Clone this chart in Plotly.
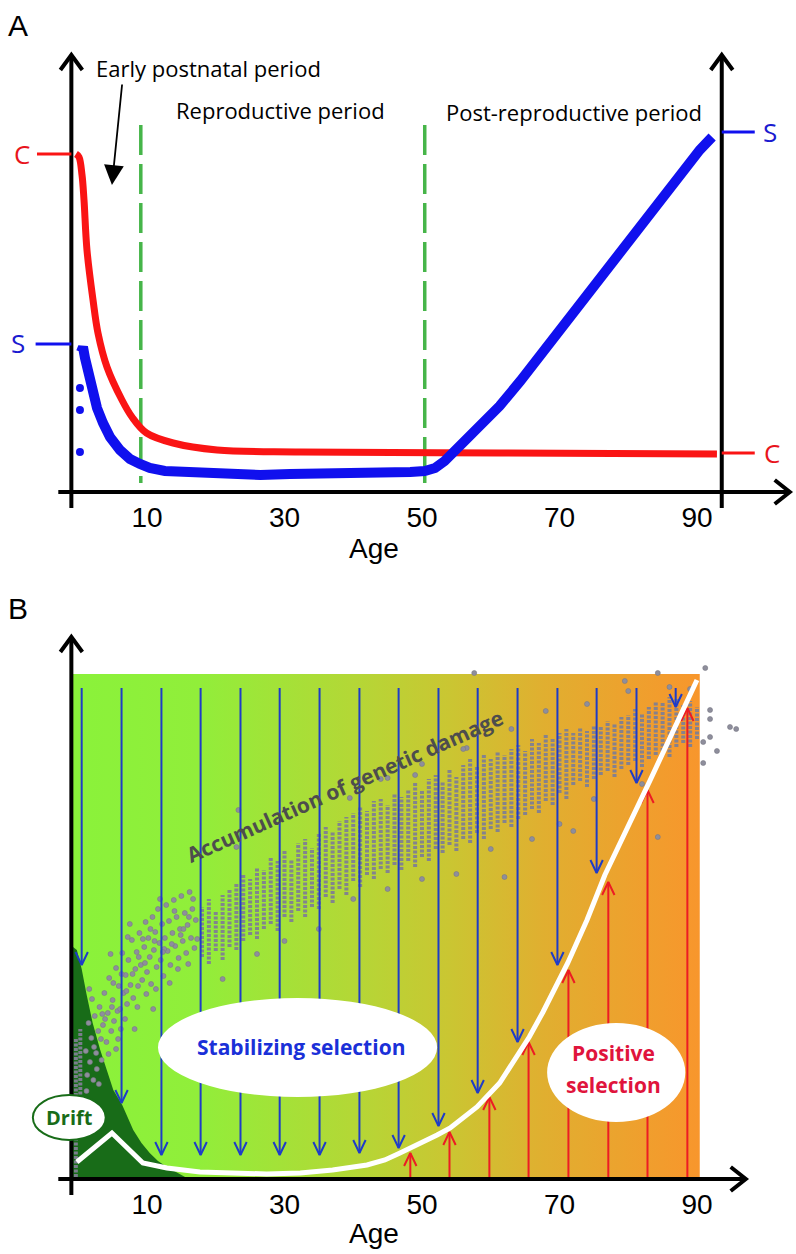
import plotly.graph_objects as go

# ---------------- Panel A data ----------------
red_age = [-0.33, 0.11, 0.55, 0.84, 1.27, 2.15, 2.87, 4.18, 6.36, 7.82, 9.93, 13.8, 20.2, 32.3, 61.4, 92.9]
red_val = [338, 335, 317, 292, 242, 192, 159, 125, 92, 75, 59, 49, 42, 40, 39, 38]

blue_age = [0.40, 0.69, 0.98, 1.42, 2.0, 2.73, 3.6, 4.62, 6.07, 7.53, 8.98, 10.4, 12.6, 17.7, 22.1, 26.5,
            30.8, 35.2, 39.5, 43.9, 48.3, 50.4, 51.9, 53.3, 54.5, 56.0, 57.4, 59.5, 61.3, 64.3, 67.2,
            70.1, 73.0, 75.9, 78.8, 81.7, 84.6, 87.5, 90.4, 92.2]
blue_val = [140, 145, 134, 120, 102, 84, 69, 55, 42, 33, 28, 24, 21, 19, 18, 17,
            18, 18, 19, 19, 20, 21, 24, 31, 39, 49, 59, 72, 86, 111, 137,
            162, 187, 213, 239, 265, 290, 316, 342, 355]
blue_iso_age = [0.25, 0.25, 0.25]
blue_iso_val = [104, 82, 40]

period_bounds = [9.1, 50.4]
x_ticks = [10, 30, 50, 70, 90]

# ---------------- Panel B data ----------------
white_age = [-0.2, 4.9, 9.4, 12.9, 17.7, 22.5, 27.4, 32.3, 37.0, 42.0, 44.6, 46.8, 48.7, 52.2,
             54.1, 58.0, 61.3, 63.8, 65.6, 67.6, 69.6, 71.2, 74.0, 76.6, 83.2, 90.0]
white_val = [17, 46, 16, 11, 7, 6, 5, 6, 9, 14, 19, 26, 32, 44,
             51, 72, 96, 124, 142, 167, 194, 216, 259, 304, 399, 499]

drift_age = [-0.76, -0.2, 0.5, 1.2, 2.1, 3.2, 4.2, 5.1, 6.4, 8.0, 9.2, 10.4, 11.6, 12.9, 15.8]
drift_val = [232, 229, 210, 185, 156, 129, 108, 89, 74, 49, 36, 26, 18, 12, 1]

blue_arrow_age = [0.5, 6.3, 12.1, 17.8, 23.6, 29.3, 35.1, 40.9, 46.6, 52.4, 58.1, 63.9, 69.7, 75.4, 81.2, 86.9]
blue_arrow_tip = [214, 76, 24, 24, 24, 24, 24, 26, 31, 53, 86, 137, 214, 306, 396, 472]
blue_arrow_top = 491

red_arrow_age = [48.3, 54.0, 59.8, 65.5, 71.3, 77.1, 82.8, 88.6]
red_arrow_tip = [26, 47, 82, 137, 209, 297, 389, 471]

# dot columns: (age, lowest value, highest value)
gray_columns = [
    (-0.35, 2, 140), (0.3, 80, 150),
    (18, 222, 272), (19, 215, 280), (20, 228, 268), (21, 219, 284), (22, 232, 290), (23, 229, 296),
    (24, 238, 305), (25, 244, 300), (26, 240, 312), (27, 250, 309), (28, 255, 322), (29, 248, 318),
    (30, 262, 328), (31, 257, 320), (32, 268, 336), (33, 262, 340), (34, 272, 331), (35, 270, 345),
    (36, 282, 352), (37, 276, 348), (38, 290, 358), (39, 284, 362), (40, 298, 366), (41, 292, 372),
    (42, 304, 368), (43, 300, 378), (44, 310, 380), (45, 306, 374), (46, 314, 386), (47, 309, 382),
    (48, 318, 390), (49, 312, 396), (50, 322, 388), (51, 318, 400), (52, 330, 404), (53, 326, 398),
    (54, 334, 410), (55, 328, 402), (56, 340, 414), (57, 336, 420), (58, 346, 412), (59, 340, 424),
    (60, 350, 420), (61, 347, 428), (62, 356, 424), (63, 352, 430), (64, 360, 434), (65, 364, 428),
    (66, 370, 440), (67, 366, 436), (68, 378, 444), (69, 374, 440), (70, 386, 446), (71, 380, 450),
    (72, 394, 446), (73, 398, 452), (74, 392, 448), (75, 400, 454), (76, 404, 452), (77, 408, 458),
    (78, 402, 456), (79, 410, 462), (80, 414, 464), (81, 418, 470), (82, 412, 466), (83, 420, 472),
    (84, 424, 478), (85, 428, 476), (86, 422, 482), (87, 432, 480), (88, 436, 474), (89, 432, 478),
    (90, 440, 472),
]

# loose dots: (age, value)
gray_points = [
    (1.1, 128), (1.3, 104), (1.5, 156), (1.7, 117), (1.9, 141), (2.2, 99), (2.4, 163), (2.6, 126),
    (2.9, 148), (3.1, 172), (3.4, 119), (3.6, 154), (3.8, 186), (4.1, 137), (4.3, 166), (4.5, 201),
    (4.8, 148), (5.0, 179), (5.2, 158), (5.5, 211), (5.7, 168), (5.9, 193), (6.2, 150), (6.4, 226),
    (6.6, 186), (6.9, 204), (7.1, 175), (7.3, 219), (7.6, 194), (7.8, 239), (8.0, 181), (8.3, 210),
    (8.5, 227), (8.7, 193), (8.9, 246), (9.1, 214), (9.3, 199), (9.6, 232), (9.8, 257), (10.0, 207),
    (10.2, 241), (10.4, 222), (10.6, 195), (10.8, 262), (11.0, 229), (11.2, 247), (11.4, 212), (11.6, 270),
    (11.8, 236), (12.0, 219), (12.2, 255), (12.4, 203), (12.6, 241), (12.8, 274), (13.0, 228), (13.2, 258),
    (13.4, 214), (13.7, 246), (13.9, 279), (14.1, 233), (14.3, 262), (14.6, 221), (14.8, 250), (15.0, 283),
    (15.2, 238), (15.5, 266), (15.7, 226), (15.9, 254), (16.2, 287), (16.4, 241), (16.6, 270), (16.9, 231),
    (17.1, 259), (1.2, 88), (2.0, 180), (2.7, 110), (3.3, 140), (3.9, 160), (4.4, 125), (5.1, 196),
    (5.8, 140), (6.1, 170), (6.8, 160), (7.2, 242), (7.9, 205), (8.6, 172), (9.4, 240), (9.9, 185),
    (10.5, 250), (11.3, 190), (11.9, 280), (12.5, 230), (13.3, 196), (14.0, 268), (14.5, 210), (15.3, 250),
    (16.0, 215), (16.7, 280), (17.3, 240), (3.0, 95), (5.5, 130), (8.2, 150), (0.9, 75), (1.6, 190),
    (4.7, 225), (7.5, 255), (10.9, 170), (2.3, 132), (3.5, 165), (4.9, 172), (6.3, 205), (7.0, 188),
    (8.8, 222), (9.7, 216), (11.1, 238), (12.3, 227), (13.6, 235), (14.9, 244), (16.1, 262),
    (23.3, 369), (23, 332), (21, 200), (26, 225), (30, 238), (35, 250), (40, 280), (45, 290), (50, 300),
    (55, 305), (60, 330), (62, 302), (66, 340), (70, 355), (72, 348), (75, 380), (82, 395), (84.3, 342),
    (39.5, 381), (45, 401), (49, 404), (56.5, 431), (44, 400), (50, 415), (56, 430), (63, 450), (68, 468),
    (74, 475), (80, 488), (86, 492), (89, 490), (57.6, 506), (84.3, 506), (79.5, 498), (91.2, 511),
    (91.9, 469), (91.9, 460), (91.9, 442), (90.9, 437), (92.9, 428), (90.9, 416), (94.8, 452), (95.7, 450),
]

grad_left, grad_right, grad_top = -0.76, 90.4, 505
grad_colors = [[0.0, "rgb(138,242,58)"], [0.2, "rgb(145,238,58)"], [0.45, "rgb(180,215,54)"],
               [0.6, "rgb(202,198,50)"], [0.75, "rgb(224,175,48)"], [1.0, "rgb(248,150,44)"]]

# ---------------- figure ----------------
W, H = 796, 1254
SPLIT = 654 / 1254
X_RANGE = [-11.38, 104.40]

fig = go.Figure()

# ---- Panel A traces ----
for b in period_bounds:
    fig.add_trace(go.Scatter(x=[b, b], y=[367, 9], mode="lines", xaxis="x", yaxis="y",
                             line=dict(color="#46b549", width=3.5, dash="30px,9px"), hoverinfo="skip"))
fig.add_trace(go.Scatter(x=red_age, y=red_val, mode="lines", xaxis="x", yaxis="y", line_shape="spline",
                         line=dict(color="#fa1414", width=7), hoverinfo="skip"))
fig.add_trace(go.Scatter(x=blue_age, y=blue_val, mode="lines", xaxis="x", yaxis="y",
                         line=dict(color="#1010ee", width=10), hoverinfo="skip"))
fig.add_trace(go.Scatter(x=blue_iso_age, y=blue_iso_val, mode="markers", xaxis="x", yaxis="y",
                         marker=dict(color="#1010ee", size=8), hoverinfo="skip"))

# ---- Panel B traces ----
fig.add_trace(go.Scatter(x=[grad_left, grad_right, grad_right, grad_left, grad_left],
                         y=[0, 0, grad_top, grad_top, 0], mode="none", fill="toself",
                         fillgradient=dict(type="horizontal", colorscale=grad_colors),
                         xaxis="x2", yaxis="y2", hoverinfo="skip"))
fig.add_trace(go.Scatter(x=drift_age + [drift_age[-1], drift_age[0]], y=drift_val + [0, 0],
                         mode="none", fill="toself", fillcolor="#186c18",
                         xaxis="x2", yaxis="y2", hoverinfo="skip"))

col_x, col_y = [], []
for a, lo, hi in gray_columns:
    col_x += [a, a, None]
    col_y += [lo, hi, None]
fig.add_trace(go.Scatter(x=col_x, y=col_y, mode="lines", xaxis="x2", yaxis="y2",
                         line=dict(color="rgba(128,128,146,0.95)", width=4, dash="3px,1.5px"),
                         hoverinfo="skip"))
fig.add_trace(go.Scatter(x=[p[0] for p in gray_points], y=[p[1] for p in gray_points], mode="markers",
                         xaxis="x2", yaxis="y2",
                         marker=dict(color="#8e8e9c", size=5, line=dict(color="#787884", width=0.6)),
                         hoverinfo="skip"))

HW, HL = 0.9, 13
bx, by = [], []
for a, tip in zip(blue_arrow_age, blue_arrow_tip):
    bx += [a, a, None, a - HW, a, a + HW, None]
    by += [blue_arrow_top, tip, None, tip + HL, tip, tip + HL, None]
fig.add_trace(go.Scatter(x=bx, y=by, mode="lines", xaxis="x2", yaxis="y2",
                         line=dict(color="#1e3cc8", width=2), hoverinfo="skip"))
rx, ry = [], []
for a, tip in zip(red_arrow_age, red_arrow_tip):
    rx += [a, a, None, a - HW, a, a + HW, None]
    ry += [1, tip, None, tip - HL, tip, tip - HL, None]
fig.add_trace(go.Scatter(x=rx, y=ry, mode="lines", xaxis="x2", yaxis="y2",
                         line=dict(color="#ec1c24", width=2), hoverinfo="skip"))
fig.add_trace(go.Scatter(x=white_age, y=white_val, mode="lines", xaxis="x2", yaxis="y2",
                         line=dict(color="white", width=5), hoverinfo="skip"))

# ---- axes drawn as shapes ----
shapes = []


def line(xref, yref, x0, y0, x1, y1, color="black", width=4):
    shapes.append(dict(type="line", xref=xref, yref=yref, x0=x0, y0=y0, x1=x1, y1=y1,
                       line=dict(color=color, width=width), layer="above"))


def chevron(xref, yref, tipx, tipy, direction):
    if direction == "up":
        d = f"M {tipx - 1.6},{tipy - 15} L {tipx},{tipy} L {tipx + 1.6},{tipy - 15}"
    else:
        d = f"M {tipx - 2.2},{tipy + 12} L {tipx},{tipy} L {tipx - 2.2},{tipy - 12}"
    shapes.append(dict(type="path", xref=xref, yref=yref, path=d,
                       line=dict(color="black", width=4), layer="above"))


AX_X = -1.0
# panel A
line("x", "y", AX_X, -16, AX_X, 437)
chevron("x", "y", AX_X, 437, "up")
line("x", "y", 93.6, -16, 93.6, 437)
chevron("x", "y", 93.6, 437, "up")
line("x", "y", -2.9, 0, 103.3, 0)
chevron("x", "y", 103.5, 0, "right")
line("x", "y", -6.0, 338, AX_X, 338, color="#fa1414", width=3)
line("x", "y", -6.2, 148, AX_X, 148, color="#1010ee", width=3)
line("x", "y", 93.6, 360, 98.4, 360, color="#1010ee", width=3)
line("x", "y", 93.6, 39, 98.4, 39, color="#fa1414", width=3)
# panel B
line("x2", "y2", AX_X, -16, AX_X, 542)
chevron("x2", "y2", AX_X, 542, "up")
line("x2", "y2", -2.9, 0, 96.9, 0)
chevron("x2", "y2", 97.1, 0, "right")

# ellipses
shapes.append(dict(type="circle", xref="x2", yref="y2", x0=11.6, x1=52.2, y0=82, y1=181,
                   fillcolor="white", line=dict(color="white", width=0), layer="above"))
shapes.append(dict(type="circle", xref="x2", yref="y2", x0=68.2, x1=88.3, y0=57, y1=156,
                   fillcolor="white", line=dict(color="white", width=0), layer="above"))
shapes.append(dict(type="circle", xref="x2", yref="y2", x0=-6.6, x1=4.0, y0=39, y1=84,
                   fillcolor="white", line=dict(color="#186c18", width=2), layer="above"))

TXT = "Open Sans, Noto Sans, sans-serif"
ann = []


def text(xref, yref, x, y, s, size, color="black", family=TXT, angle=0):
    ann.append(dict(xref=xref, yref=yref, x=x, y=y, text=s, showarrow=False, textangle=angle,
                    font=dict(size=size, color=color, family=family), xanchor="center", yanchor="middle"))


LAB = "Liberation Sans, Arial, sans-serif"
text("x", "y", -8.76, 467, "A", 30, family=LAB)
text("x2", "y2", -8.76, 571, "B", 30, family=LAB)
text("x", "y", 18.9, 424, "Early postnatal period", 22)
text("x", "y", 29.4, 382, "Reproductive period", 22)
text("x", "y", 72.1, 380, "Post-reproductive period", 22)
text("x", "y", -8.2, 338, "C", 26, color="#e8141c")
text("x", "y", -8.8, 149, "S", 26, color="#1a1ad0")
text("x", "y", 100.6, 360, "S", 26, color="#1a1ad0")
text("x", "y", 100.9, 39, "C", 26, color="#e8141c")
text("x", "y", 43, -56, "Age", 28, family=LAB)
text("x2", "y2", 43, -54, "Age", 28, family=LAB)
ann.append(dict(xref="x", yref="y", axref="x", ayref="y", x=4.9, y=307, ax=6.4, ay=409,
                showarrow=True, arrowhead=2, arrowsize=2.2, arrowwidth=1.8, arrowcolor="black", text=""))

text("x2", "y2", 38.8, 393, "<b>Accumulation of genetic damage</b>", 21, color="#4d4d4d", angle=-24)
text("x2", "y2", 32.4, 132, "<b>Stabilizing selection</b>", 21, color="#1a30d8")
text("x2", "y2", 77.9, 126, "<b>Positive</b>", 21, color="#e0143c")
text("x2", "y2", 77.9, 94, "<b>selection</b>", 21, color="#e0143c")
text("x2", "y2", -1.2, 62, "<b>Drift</b>", 20, color="#186c18")

tickfont = dict(size=28, family=LAB, color="black")
fig.update_layout(
    width=W, height=H, margin=dict(l=0, r=0, t=0, b=0),
    paper_bgcolor="white", plot_bgcolor="white", showlegend=False,
    xaxis=dict(domain=[0, 1], range=X_RANGE, anchor="free", position=(1254 - 492) / 1254,
               tickvals=x_ticks, showgrid=False, zeroline=False, showline=False, ticks="",
               tickfont=tickfont, ticklabelstandoff=6, fixedrange=True),
    yaxis=dict(domain=[SPLIT, 1], range=[-108, 492], visible=False, fixedrange=True),
    xaxis2=dict(domain=[0, 1], range=X_RANGE, anchor="free", position=(1254 - 1179) / 1254,
                tickvals=x_ticks, showgrid=False, zeroline=False, showline=False, ticks="",
                tickfont=tickfont, ticklabelstandoff=6, fixedrange=True),
    yaxis2=dict(domain=[0, SPLIT], range=[-75, 579], visible=False, fixedrange=True),
    shapes=shapes, annotations=ann,
)

fig.write_html("out.html", config={"displayModeBar": False},
               post_script="document.body.style.margin='0';document.body.style.overflow='hidden';")
